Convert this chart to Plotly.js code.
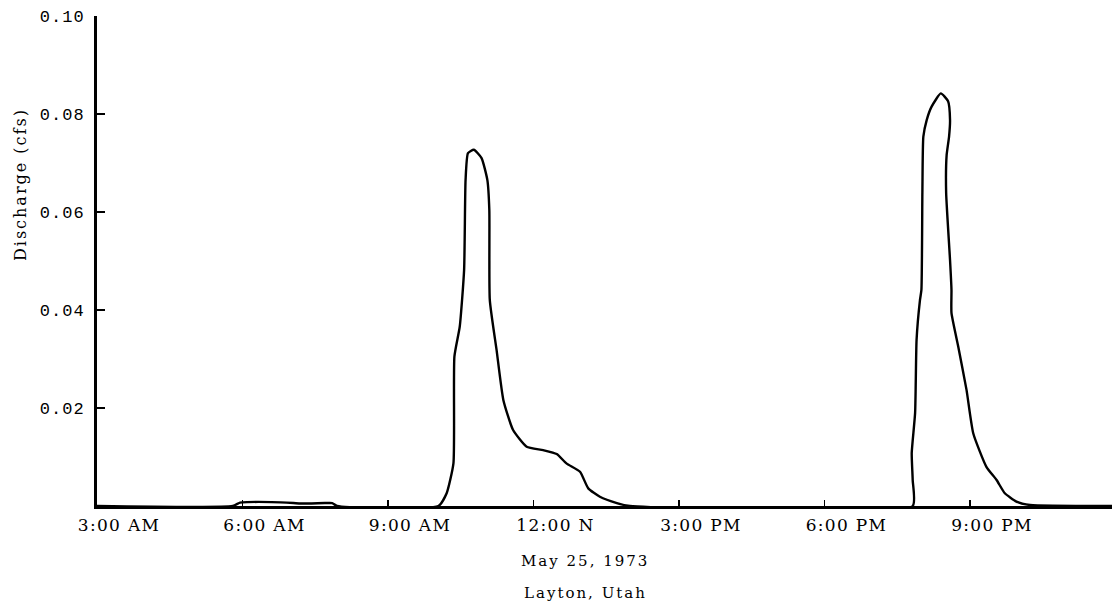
<!DOCTYPE html>
<html>
<head>
<meta charset="utf-8">
<script src="https://cdn.plot.ly/plotly-3.0.1.min.js"></script>
<style>
  html, body { margin: 0; padding: 0; background: #fff; }
  #chart { width: 1112px; height: 609px; }
  .xtick text { letter-spacing: 1.3px; }
  .ytick text { letter-spacing: 1px; }
  .annotation-text { letter-spacing: 2px; }
</style>
</head>
<body>
<div id="chart"></div>
<script>
// Time of day in decimal hours (3.0 = 3:00 AM, 12.0 = noon, 21.0 = 9:00 PM)
const hours = [
  3.0, 5.8, 5.95, 6.1, 6.6, 7.05, 7.2, 7.7, 7.85, 7.95,
  10.04, 10.21, 10.35, 10.37, 10.48, 10.57, 10.60, 10.65, 10.77, 10.93,
  11.05, 11.09, 11.10, 11.24, 11.38, 11.58, 11.86, 12.20, 12.48, 12.68,
  12.96, 13.13, 13.37, 13.72, 13.99,
  19.82, 19.82, 19.80, 19.87, 19.90, 19.97, 20.00, 20.02, 20.04, 20.11,
  20.21, 20.40, 20.55, 20.59, 20.57, 20.52, 20.51, 20.59, 20.62, 20.62,
  20.76, 20.93, 21.07, 21.34, 21.55, 21.72, 21.96, 22.24, 24.0
];
// Discharge in cfs
const discharge = [
  0, 0, 0.0007, 0.0008, 0.0008, 0.0006, 0.0005, 0.0006, 0.0006, 0,
  0, 0.0026, 0.0087, 0.0305, 0.0366, 0.0482, 0.0665, 0.0720, 0.0727, 0.0710,
  0.0665, 0.0604, 0.0420, 0.0318, 0.0216, 0.0155, 0.0121, 0.0114, 0.0106, 0.0087,
  0.0070, 0.0036, 0.0019, 0.0006, 0,
  0, 0.0053, 0.0108, 0.0190, 0.0339, 0.0420, 0.0441, 0.0639, 0.0754, 0.0788,
  0.0815, 0.0842, 0.0826, 0.0788, 0.0754, 0.0716, 0.0639, 0.0502, 0.0441, 0.0394,
  0.0325, 0.0237, 0.0148, 0.0080, 0.0053, 0.0026, 0.0009, 0.0002, 0
];
const xTickVals = [3, 6, 9, 12, 15, 18, 21];
const xTickText = ["3:00 AM", "6:00 AM", "9:00 AM", "12:00 N", "3:00 PM", "6:00 PM", "9:00 PM"];
const yTickVals = [0.02, 0.04, 0.06, 0.08, 0.10];
const yTickText = ["0.02", "0.04", "0.06", "0.08", "0.10"];
const yTitle = "Discharge (cfs)";
const dateLabel = "May 25, 1973";
const placeLabel = "Layton, Utah";

const serif = "DejaVu Serif, serif";
const mono = "Liberation Mono, Courier New, monospace";

const trace = {
  x: hours, y: discharge, type: "scatter", mode: "lines",
  line: { color: "#000", width: 2.4, shape: "spline", smoothing: 0.5 },
  hoverinfo: "skip", cliponaxis: false
};

const layout = {
  width: 1112, height: 609,
  margin: { l: 97, r: 0, t: 16, b: 103, pad: 0 },
  paper_bgcolor: "#fff", plot_bgcolor: "#fff",
  showlegend: false,
  xaxis: {
    range: [3, 23.93], showgrid: false, zeroline: false,
    showline: true, linecolor: "#000", linewidth: 3,
    ticks: "inside", ticklen: 6, tickwidth: 1.5, tickcolor: "#000",
    tickvals: xTickVals, ticktext: xTickText,
    tickfont: { family: serif, size: 17, color: "#000" },
    ticklabelshift: 22, ticklabelstandoff: 2
  },
  yaxis: {
    range: [0, 0.10], showgrid: false, zeroline: false,
    showline: true, linecolor: "#000", linewidth: 3,
    ticks: "inside", ticklen: 8, tickwidth: 1.5, tickcolor: "#000",
    tickvals: yTickVals, ticktext: yTickText,
    tickfont: { family: mono, size: 17, color: "#000" },
    ticklabelstandoff: 6
  },
  annotations: [
    { text: yTitle, xref: "paper", yref: "paper", x: 0, y: 0.655,
      xshift: -77, textangle: -90, showarrow: false,
      xanchor: "center", yanchor: "middle",
      font: { family: serif, size: 16, color: "#000" } },
    { text: dateLabel, xref: "paper", yref: "paper", x: 0.4808, y: 0,
      yshift: -55, showarrow: false, xanchor: "center", yanchor: "middle",
      font: { family: serif, size: 15, color: "#000" } },
    { text: placeLabel, xref: "paper", yref: "paper", x: 0.4808, y: 0,
      yshift: -87, showarrow: false, xanchor: "center", yanchor: "middle",
      font: { family: serif, size: 15, color: "#000" } }
  ]
};

Plotly.newPlot("chart", [trace], layout, { displayModeBar: false, staticPlot: true });
</script>
</body>
</html>
